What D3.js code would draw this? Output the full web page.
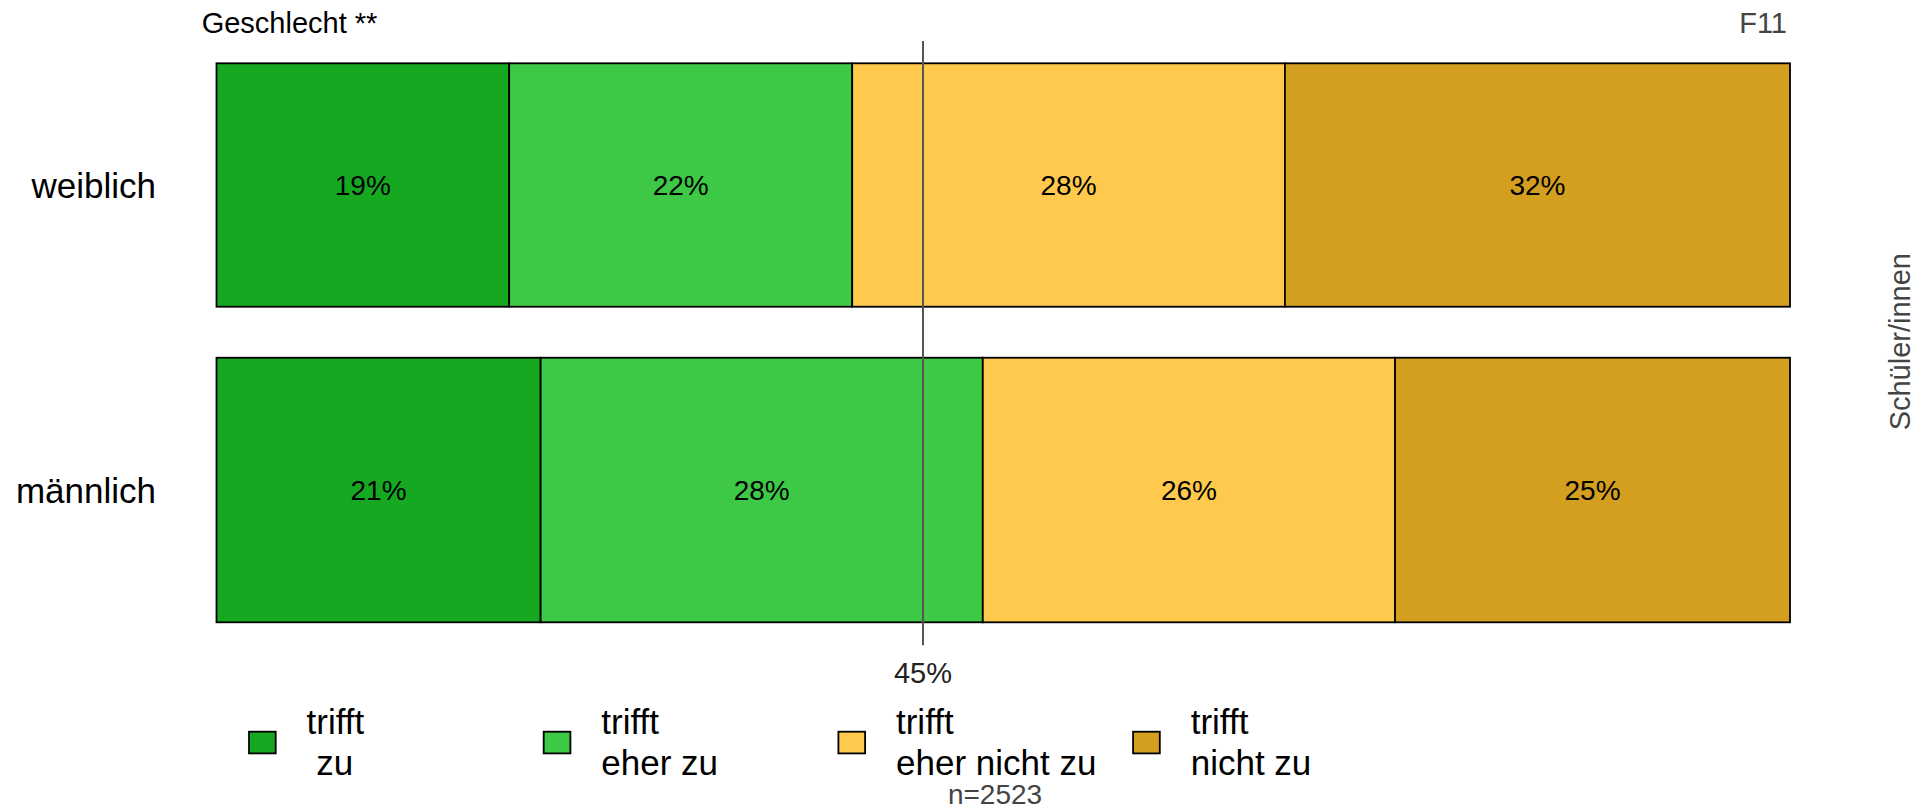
<!DOCTYPE html>
<html>
<head>
<meta charset="utf-8">
<script src="https://cdn.jsdelivr.net/npm/d3@7"></script>
<style>
  html, body { margin: 0; padding: 0; background: #fff; }
  svg { display: block; font-family: "Liberation Sans", Arial, sans-serif; }
</style>
</head>
<body>
<svg id="chart" width="1929" height="812"></svg>
<script>
// ---- data ----
const categories = ["weiblich", "männlich"];
const groupN = [1209, 1314];
const seriesNames = ["trifft zu", "trifft eher zu", "trifft eher nicht zu", "trifft nicht zu"];
const legendLine1 = ["trifft", "trifft", "trifft", "trifft"];
const legendLine2 = [" zu", "eher zu", "eher nicht zu", "nicht zu"];
const weiblichValues = [18.6, 21.8, 27.5, 32.1];
const maennlichValues = [20.6, 28.1, 26.2, 25.1];
const referenceValue = 44.9;
const referenceLabel = "45%";
const titleText = "Geschlecht **";
const codeText = "F11";
const groupText = "Schüler/innen";
const nText = "n=2523";
const colors = ["#17a821", "#3dc946", "#fec94c", "#d49e1f"];

const values = [weiblichValues, maennlichValues];

(function draw() {
  const svg = d3.select("#chart");
  const left = 216.5, right = 1790;
  const plotTop = 63.3, plotBottom = 622.3, gap = 51;

  const x = d3.scaleLinear().domain([0, 100]).range([left, right]);
  const total = d3.sum(groupN);
  const yh = d3.scaleLinear().domain([0, total]).range([0, plotBottom - plotTop - gap]);

  const cum = [0];
  groupN.forEach((n, i) => cum.push(cum[i] + n));
  const bands = categories.map((c, i) => ({
    cat: c,
    y0: plotTop + yh(cum[i]) + i * gap,
    h: yh(groupN[i])
  }));

  bands.forEach((b, i) => {
    let acc = 0;
    const segs = values[i].map((v, j) => {
      const s = { start: acc, v: v, j: j };
      acc += v;
      return s;
    });
    const g = svg.append("g");
    g.selectAll("rect").data(segs).join("rect")
      .attr("x", d => x(d.start))
      .attr("y", b.y0)
      .attr("width", d => x(d.start + d.v) - x(d.start))
      .attr("height", b.h)
      .attr("fill", d => colors[d.j])
      .attr("stroke", "#000")
      .attr("stroke-width", 1.8);
    g.selectAll("text").data(segs).join("text")
      .attr("x", d => x(d.start + d.v / 2))
      .attr("y", b.y0 + b.h / 2)
      .attr("dy", "0.37em")
      .attr("text-anchor", "middle")
      .attr("font-size", 28)
      .attr("fill", "#000")
      .text(d => Math.round(d.v) + "%");
    svg.append("text")
      .attr("x", 156)
      .attr("y", b.y0 + b.h / 2)
      .attr("dy", "0.36em")
      .attr("text-anchor", "end")
      .attr("font-size", 35)
      .attr("fill", "#000")
      .text(b.cat);
  });

  // reference line
  svg.append("line")
    .attr("x1", x(referenceValue)).attr("x2", x(referenceValue))
    .attr("y1", 41).attr("y2", 645.3)
    .attr("stroke", "#555").attr("stroke-width", 2);
  svg.append("text")
    .attr("x", x(referenceValue)).attr("y", 683.3)
    .attr("text-anchor", "middle").attr("font-size", 29).attr("fill", "#222")
    .text(referenceLabel);

  // titles
  svg.append("text").attr("x", 201.7).attr("y", 33.3)
    .attr("font-size", 29).attr("fill", "#000").text(titleText);
  svg.append("text").attr("x", 1787).attr("y", 33.3)
    .attr("text-anchor", "end").attr("font-size", 29).attr("fill", "#444").text(codeText);
  svg.append("text")
    .attr("transform", "translate(1910,341.7) rotate(-90)")
    .attr("text-anchor", "middle").attr("font-size", 29).attr("fill", "#444")
    .text(groupText);
  svg.append("text").attr("x", 995).attr("y", 804)
    .attr("text-anchor", "middle").attr("font-size", 28).attr("fill", "#444").text(nText);

  // legend
  const lg = svg.append("g");
  const items = lg.selectAll("g").data(seriesNames).join("g")
    .attr("transform", (d, i) => `translate(${249 + i * 294.7},0)`);
  items.append("rect")
    .attr("x", 0).attr("y", 731.7).attr("width", 26.7).attr("height", 21.7)
    .attr("fill", (d, i) => colors[i]).attr("stroke", "#000").attr("stroke-width", 1.8);
  items.append("text")
    .attr("x", 57.6).attr("y", 734).attr("font-size", 35).attr("fill", "#000")
    .text((d, i) => legendLine1[i]);
  items.append("text")
    .attr("x", 57.6).attr("y", 775).attr("font-size", 35).attr("fill", "#000")
    .style("white-space", "pre")
    .text((d, i) => legendLine2[i]);
})();
</script>
</body>
</html>
